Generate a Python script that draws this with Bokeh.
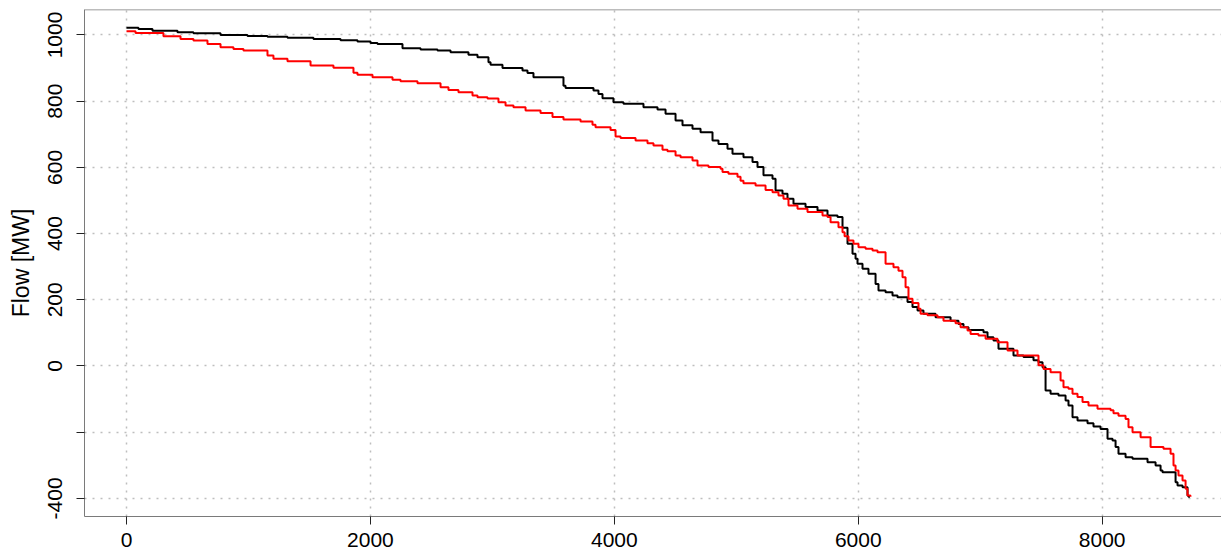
from bokeh.plotting import figure
from bokeh.models import FixedTicker, Span, Range1d
from bokeh.embed import file_html
from bokeh.resources import INLINE

# ---- data (duration curves, step levels: hour at which level starts, flow in MW) ----
black_hours = [0, 98, 213, 418, 549, 771, 992, 1156, 1320, 1533, 1755, 1894, 2001, 2058,
               2263, 2411, 2550, 2657, 2804, 2878, 2968, 2985, 3083, 3247, 3288, 3337,
               3583, 3600, 3829, 3870, 3903, 3993, 4075, 4239, 4354, 4420, 4502, 4559,
               4641, 4707, 4805, 4854, 4928, 4969, 5059, 5133, 5174, 5223, 5297, 5322,
               5379, 5420, 5469, 5568, 5666, 5748, 5830, 5871, 5912, 5953, 5978, 5994,
               6035, 6084, 6142, 6166, 6224, 6281, 6322, 6404, 6445, 6486, 6535, 6634,
               6757, 6822, 6863, 6904, 7027, 7060, 7109, 7150, 7273, 7355, 7437, 7478,
               7511, 7536, 7577, 7642, 7700, 7724, 7757, 7798, 7880, 7929, 7987, 8044,
               8085, 8110, 8134, 8192, 8249, 8372, 8438, 8479, 8495, 8602, 8618, 8659,
               8700, 8708, 8720]
black_flow = [1022, 1018, 1013, 1008, 1005, 1000, 997, 995, 992, 988, 984, 980, 976, 973,
              960, 956, 953, 948, 940, 933, 918, 910, 900, 893, 885, 872,
              847, 840, 832, 822, 809, 797, 792, 782, 775, 762, 742, 727,
              717, 706, 681, 671, 656, 641, 631, 616, 601, 576, 566, 530,
              520, 505, 490, 480, 470, 455, 450, 418, 369, 339, 324, 309,
              294, 279, 248, 228, 223, 213, 208, 193, 178, 168, 158, 147,
              137, 127, 117, 109, 102, 87, 77, 52, 32, 27, 17, 11,
              -4, -74, -84, -89, -104, -119, -155, -165, -173, -183, -190, -220,
              -225, -245, -265, -276, -280, -291, -301, -316, -321, -351, -361, -366,
              -391, -395, -395]

red_hours = [0, 74, 303, 443, 549, 664, 771, 877, 959, 1156, 1205, 1320, 1509, 1697,
             1861, 1894, 2017, 2181, 2247, 2386, 2575, 2640, 2722, 2837, 2878, 2960,
             3050, 3108, 3173, 3272, 3395, 3493, 3583, 3723, 3821, 3846, 3969, 4010,
             4051, 4174, 4272, 4321, 4395, 4436, 4502, 4543, 4641, 4682, 4772, 4871,
             4887, 4936, 5010, 5035, 5059, 5158, 5240, 5297, 5346, 5387, 5428, 5502,
             5584, 5707, 5748, 5773, 5838, 5871, 5888, 5920, 5961, 6002, 6060, 6117,
             6158, 6224, 6289, 6330, 6363, 6388, 6412, 6445, 6494, 6511, 6568, 6650,
             6699, 6798, 6839, 6896, 6921, 6986, 7044, 7142, 7224, 7306, 7478, 7519,
             7577, 7659, 7683, 7724, 7757, 7798, 7839, 7888, 7962, 8069, 8093, 8134,
             8192, 8216, 8249, 8315, 8397, 8503, 8561, 8585, 8602, 8626, 8659, 8684,
             8700, 8724]
red_flow = [1011, 1006, 996, 988, 983, 973, 963, 958, 953, 938, 928, 921, 908, 901,
            886, 880, 872, 865, 860, 854, 842, 834, 827, 817, 812, 808,
            797, 787, 782, 772, 764, 752, 745, 739, 729, 721, 713, 693,
            689, 681, 673, 666, 653, 649, 636, 631, 621, 606, 601, 596,
            586, 581, 572, 560, 552, 545, 532, 525, 515, 505, 485, 475,
            465, 455, 450, 434, 419, 404, 392, 379, 369, 359, 354, 349,
            344, 309, 298, 288, 268, 238, 203, 190, 173, 158, 153, 147,
            137, 129, 117, 107, 97, 92, 82, 72, 47, 32, 2, -9,
            -19, -44, -64, -69, -84, -94, -109, -119, -129, -134, -143, -150,
            -160, -185, -200, -215, -245, -250, -265, -301, -316, -331, -346, -371,
            -391, -395]

x_ticks = [0, 2000, 4000, 6000, 8000]
y_ticks = [-400, -200, 0, 200, 400, 600, 800, 1000]
y_tick_labels = {-400: "-400", -200: "", 0: "0", 200: "200", 400: "400",
                 600: "600", 800: "800", 1000: "1000"}
y_label = "Flow [MW]"

X_START, X_END = -344.4, 8978.6
Y_START, Y_END = -454.7, 1077.0

FONT = "Liberation Sans"
BOX = "#7a7a7a"
GRID = "#bebebe"

p = figure(frame_width=1137, frame_height=507,
           x_range=Range1d(X_START, X_END), y_range=Range1d(Y_START, Y_END),
           output_backend="svg", toolbar_location=None,
           min_border_left=84, min_border_right=0, min_border_top=9, min_border_bottom=41)
p.outline_line_color = None
p.background_fill_color = "white"
p.border_fill_color = "white"

# axes
p.xaxis.ticker = FixedTicker(ticks=x_ticks)
p.yaxis.ticker = FixedTicker(ticks=y_ticks)
p.yaxis.major_label_overrides = y_tick_labels
for ax in (p.xaxis, p.yaxis):
    ax.axis_line_color = BOX
    ax.axis_line_width = 1
    ax.major_tick_line_color = "#222222"
    ax.major_tick_in = 0
    ax.major_tick_out = 8
    ax.minor_tick_line_color = None
    ax.major_label_text_font = FONT
    ax.major_label_text_font_size = "21px"
    ax.major_label_text_color = "black"
p.xaxis.major_label_standoff = 8
p.yaxis.major_label_standoff = 14
p.yaxis.major_label_orientation = "parallel"
p.yaxis.axis_label = y_label
p.yaxis.axis_label_text_font = FONT
p.yaxis.axis_label_text_font_size = "23px"
p.yaxis.axis_label_text_font_style = "normal"
p.yaxis.axis_label_text_color = "black"
p.yaxis.axis_label_standoff = 12

# grid
p.xgrid.ticker = FixedTicker(ticks=x_ticks)
p.ygrid.ticker = FixedTicker(ticks=y_ticks)
for g in (p.xgrid, p.ygrid):
    g.grid_line_color = GRID
    g.grid_line_dash = "2 6"
    g.grid_line_width = 1.5

# top border of the box
p.add_layout(Span(location=Y_END, dimension="width", line_color=BOX, line_width=1.5))

# curves
p.step(black_hours, black_flow, mode="after", line_color="black", line_width=2)
p.step(red_hours, red_flow, mode="after", line_color="red", line_width=2)

open("out.html", "w").write(file_html(p, INLINE))
